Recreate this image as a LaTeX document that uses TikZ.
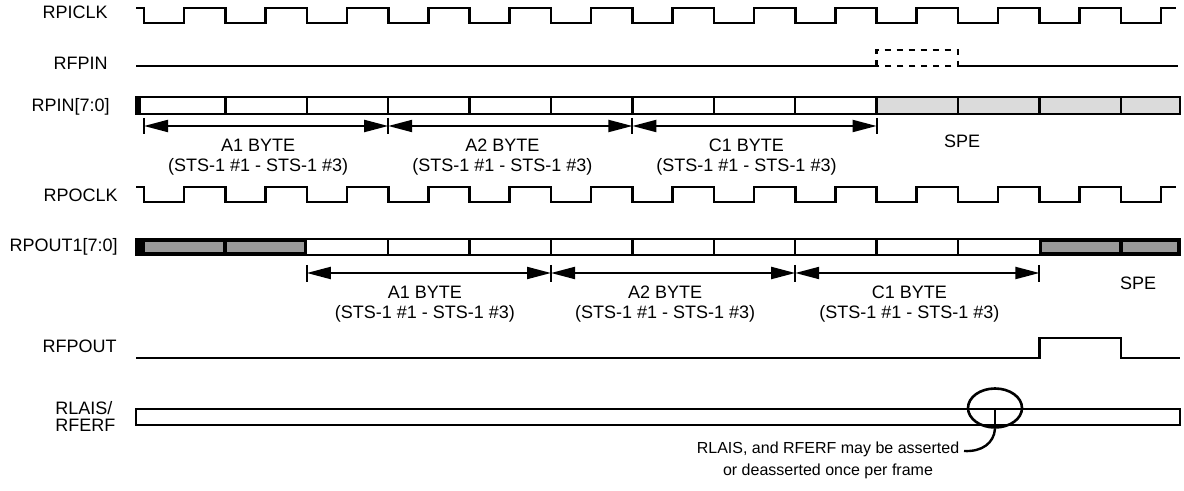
\documentclass[tikz,border=0pt]{standalone}
\usepackage{fontspec}
\setmainfont{Liberation Sans}
\usetikzlibrary{arrows.meta,shapes.geometric}

\begin{document}
\begin{tikzpicture}[
		x=0.5pt, y=-0.5pt, line join=miter,
		every node/.style={font=\fontsize{9}{10}\selectfont, inner sep=0pt},
		sig/.style={anchor=base east},
		lab/.style={align=center},
		wave/.style={line width=1.3pt},
		bus/.style={line width=1.2pt},
		span/.style={line width=1pt, {Triangle[length=12pt,width=6pt]}-{Triangle[length=12pt,width=6pt]}},
		tick/.style={line width=1pt},
		declare function={
			tk(\k) = 144 + \k*81.4;
		}
		]
		\useasboundingbox (0,0) rectangle (1184,491);
		
		% 1. SIGNAL NAMES
		\node[sig] (rpiclk) at (108,19) {RPICLK};
		\node[sig] (rfpin) at (108,70) {RFPIN};
		\node[sig] (rpin) at (110,112) {RPIN[7:0]};
		\node[sig] (rpoclk) at (118,202) {RPOCLK};
		\node[sig] (rpout) at (118,252) {RPOUT1[7:0]};
		\node[sig] (rfpout) at (117,353) {RFPOUT};
		\node[anchor=base west] (rlais) at (55,415) {RLAIS/};
		\node[anchor=base west] (rferf) at (55,432) {RFERF};
		
		% 2. CLOCKS
		\draw[wave] (136,8) \foreach \k in {0,...,12} { -- ({tk(\k)},8) -- ({tk(\k)},23) -- ({tk(\k)+40},23) -- ({tk(\k)+40},8) } -- (1176,8);
		\draw[wave] (136,187) \foreach \k in {0,...,12} { -- ({tk(\k)},187) -- ({tk(\k)},202) -- ({tk(\k)+40},202) -- ({tk(\k)+40},187) } -- (1176,187);
		
		% 3. FRAME PULSES
		\draw[wave] (136,66) -- ({tk(9)},66);
		\draw[wave, dashed] ({tk(9)},66) rectangle ({tk(10)},50);
		\draw[wave] ({tk(10)},66) -- (1178,66);
		\draw[wave] (136,358) -- ({tk(11)},358) -- ({tk(11)},338) -- ({tk(12)},338) -- ({tk(12)},358) -- (1180,358);
		
		% 4. INPUT BUS
		\fill[gray!28] ({tk(9)},97) rectangle (1180,114);
		\draw[bus] (136,97) rectangle (1180,114);
		\fill (136,97) rectangle (141,114);
		\foreach \k in {1,...,12} \draw[bus] ({tk(\k)},97) -- ({tk(\k)},114);
		
		% 5. OUTPUT BUS
		\fill (136,239) rectangle ({tk(2)},255);
		\fill ({tk(11)},239) rectangle (1180,255);
		\fill[black!40] (145,242) rectangle ({tk(1)-2},252);
		\fill[black!40] ({tk(1)+2},242) rectangle ({tk(2)-3},252);
		\fill[black!40] ({tk(11)+3},242) rectangle ({tk(12)-2},252);
		\fill[black!40] ({tk(12)+2},242) rectangle (1177,252);
		\draw[bus] (136,239) rectangle (1180,255);
		\foreach \k in {3,...,10} \draw[bus] ({tk(\k)},239) -- ({tk(\k)},255);
		
		% 6. BYTE SPANS
		\foreach \k in {0,3,6,9} {
			\coordinate (ti\k) at ({tk(\k)},126);
			\draw[tick] ({tk(\k)},118) -- ({tk(\k)},134);
		}
		\foreach \k in {2,5,8,11} {
			\coordinate (to\k) at ({tk(\k)},273);
			\draw[tick] ({tk(\k)},265) -- ({tk(\k)},282);
		}
		\draw[span] (ti0) -- (ti3) node[lab, midway, below=6pt, xshift=-4pt] (a1in) {A1 BYTE\\(STS-1 \#1 - STS-1 \#3)};
		\draw[span] (ti3) -- (ti6) node[lab, midway, below=6pt, xshift=-4pt] (a2in) {A2 BYTE\\(STS-1 \#1 - STS-1 \#3)};
		\draw[span] (ti6) -- (ti9) node[lab, midway, below=6pt, xshift=-4pt] (c1in) {C1 BYTE\\(STS-1 \#1 - STS-1 \#3)};
		\draw[span] (to2) -- (to5) node[lab, midway, below=6pt, xshift=-2pt] (a1out) {A1 BYTE\\(STS-1 \#1 - STS-1 \#3)};
		\draw[span] (to5) -- (to8) node[lab, midway, below=6pt, xshift=-4pt] (a2out) {A2 BYTE\\(STS-1 \#1 - STS-1 \#3)};
		\draw[span] (to8) -- (to11) node[lab, midway, below=6pt, xshift=-4pt] (c1out) {C1 BYTE\\(STS-1 \#1 - STS-1 \#3)};
		\node (spein) at (962,141) {SPE};
		\node (speout) at (1138,283) {SPE};
		
		% 7. ALARM BUS AND NOTE
		\draw[bus] (136,409) rectangle (1180,425);
		\draw[line width=1.4pt] (995,409) -- (995,425);
		\node[draw, ellipse, line width=1.3pt, minimum width=27pt, minimum height=19.5pt] (ring) at (995,408) {};
		\node[lab, font=\fontsize{8}{11}\selectfont] (note) at (828,460) {RLAIS, and RFERF may be asserted\\or deasserted once per frame};
		\coordinate (tail) at (964,451);
		\draw[line width=1.2pt] (ring.south) .. controls (994,443) and (982,452) .. (tail);
		
\end{tikzpicture}
\end{document}
